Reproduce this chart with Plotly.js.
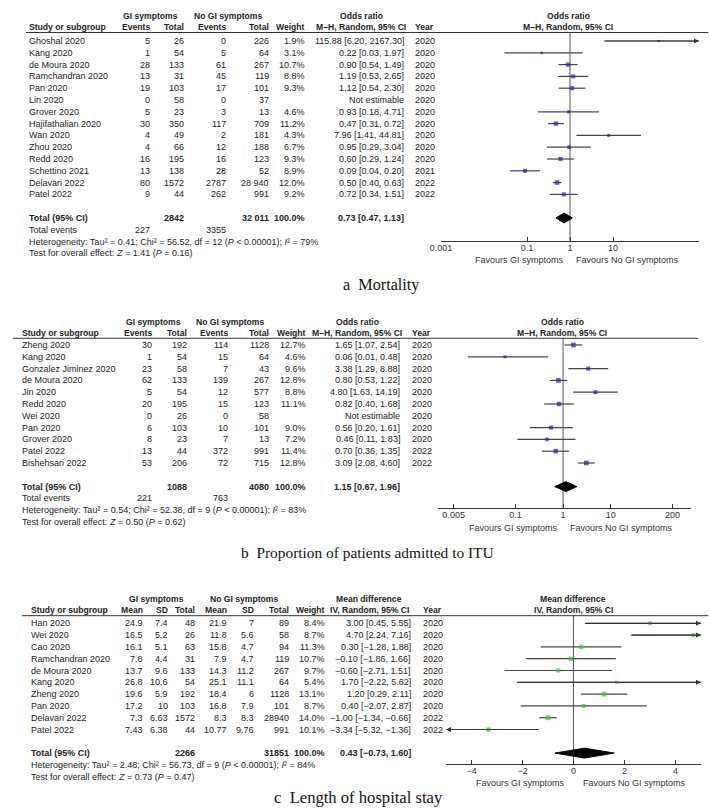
<!DOCTYPE html>
<html><head><meta charset="utf-8">
<script src="https://cdn.plot.ly/plotly-3.0.1.min.js"></script>
<style>html,body{margin:0;padding:0;background:#fff}</style>
</head><body><div id="chart" style="width:709px;height:811px"></div>
<script>
// ---------- Panel a: Mortality ----------
const aStudy = ['Ghoshal 2020','Kang 2020','de Moura 2020','Ramchandran 2020','Pan 2020','Lin 2020','Grover 2020','Hajifathalian 2020','Wan 2020','Zhou 2020','Redd 2020','Schettino 2021','Delavari 2022','Patel 2022'];
const aGiEvents = [5,1,28,13,19,0,5,30,4,4,16,13,80,9];
const aGiTotal = [26,54,133,31,103,58,23,350,49,66,195,138,1572,44];
const aNoEvents = [0,5,61,45,17,0,3,117,2,12,16,28,2787,262];
const aNoTotal = [226,64,267,119,101,37,13,709,181,188,123,52,28940,991];
const aWeight = [1.9,3.1,10.7,8.8,9.3,null,4.6,11.2,4.3,6.7,9.3,8.9,12.0,9.2];
const aOR = [115.88,0.22,0.90,1.19,1.12,null,0.93,0.47,7.96,0.95,0.60,0.09,0.50,0.72];
const aLo = [6.20,0.03,0.54,0.53,0.54,null,0.18,0.31,1.41,0.29,0.29,0.04,0.40,0.34];
const aHi = [2167.30,1.97,1.49,2.65,2.30,null,4.71,0.72,44.81,3.04,1.24,0.20,0.63,1.51];
const aYear = [2020,2020,2020,2020,2020,2020,2020,2020,2020,2020,2020,2021,2022,2022];
const aTotalN = [2842, 32011];
const aTotalEvents = [227, 3355];
const aPooled = [0.73, 0.47, 1.13];
const aHet = [0.41, 56.52, 12, 79];
const aTest = [1.41, 0.16];
const aTickVals = [0.001, 0.1, 1, 10, 1000];
const aTickText = ['0.001','0.1','1','10','1000'];

// ---------- Panel b: Proportion admitted to ITU ----------
const bStudy = ['Zheng 2020','Kang 2020','Gonzalez Jiminez 2020','de Moura 2020','Jin 2020','Redd 2020','Wei 2020','Pan 2020','Grover 2020','Patel 2022','Bishehsari 2022'];
const bGiEvents = [30,1,23,62,5,20,0,6,8,13,53];
const bGiTotal = [192,54,58,133,54,195,26,103,23,44,206];
const bNoEvents = [114,15,7,139,12,15,0,10,7,372,72];
const bNoTotal = [1128,64,43,267,577,123,58,101,13,991,715];
const bWeight = [12.7,4.6,9.6,12.8,8.8,11.1,null,9.0,7.2,11.4,12.8];
const bOR = [1.65,0.06,3.38,0.80,4.80,0.82,null,0.56,0.46,0.70,3.09];
const bLo = [1.07,0.01,1.29,0.53,1.63,0.40,null,0.20,0.11,0.36,2.08];
const bHi = [2.54,0.48,8.88,1.22,14.19,1.68,null,1.61,1.83,1.35,4.60];
const bYear = [2020,2020,2020,2020,2020,2020,2020,2020,2020,2022,2022];
const bTotalN = [1088, 4080];
const bTotalEvents = [221, 763];
const bPooled = [1.15, 0.67, 1.96];
const bHet = [0.54, 52.38, 9, 83];
const bTest = [0.50, 0.62];
const bTickVals = [0.005, 0.1, 1, 10, 200];
const bTickText = ['0.005','0.1','1','10','200'];

// ---------- Panel c: Length of hospital stay ----------
const cStudy = ['Han 2020','Wei 2020','Cao 2020','Ramchandran 2020','de Moura 2020','Kang 2020','Zheng 2020','Pan 2020','Delavari 2022','Patel 2022'];
const cGiMean = [24.9,16.5,16.1,7.8,13.7,26.8,19.6,17.2,7.3,7.43];
const cGiSD = [7.4,5.2,5.1,4.4,9.6,10.6,5.9,10,6.63,6.38];
const cGiTotal = [48,26,63,31,133,54,192,103,1572,44];
const cNoMean = [21.9,11.8,15.8,7.9,14.3,25.1,18.4,16.8,8.3,10.77];
const cNoSD = [7,5.6,4.7,4.7,11.2,11.1,6,7.9,8.3,9.76];
const cNoTotal = [89,58,94,119,267,64,1128,101,28940,991];
const cWeight = [8.4,8.7,11.3,10.7,9.7,5.4,13.1,8.7,14.0,10.1];
const cMD = [3.00,4.70,0.30,-0.10,-0.60,1.70,1.20,0.40,-1.00,-3.34];
const cLo = [0.45,2.24,-1.28,-1.86,-2.71,-2.22,0.29,-2.07,-1.34,-5.32];
const cHi = [5.55,7.16,1.88,1.66,1.51,5.62,2.11,2.87,-0.66,-1.36];
const cYear = [2020,2020,2020,2020,2020,2020,2020,2020,2022,2022];
const cTotalN = [2266, 31851];
const cPooled = [0.43, -0.73, 1.60];
const cHet = [2.48, 56.73, 9, 84];
const cTest = [0.73, 0.47];
const cTickVals = [-4, -2, 0, 2, 4];
const cTickText = ['\u22124','\u22122','0','2','4'];

// ---------- helpers ----------
const W = 709, H = 811;
const FONT = 'Liberation Sans, Arial, Helvetica, sans-serif';
const SERIF = 'Liberation Serif, Times New Roman, serif';
const f2 = v => (v < 0 ? '\u2212' : '') + Math.abs(v).toFixed(2);
const pct = v => v == null ? '' : v.toFixed(1) + '%';
const intS = (v, spaced) => { const s = String(v); return (spaced && v >= 10000) ? s.slice(0, -3) + ' ' + s.slice(-3) : s; };
const effStr = (e, l, h) => e == null ? 'Not estimable' : f2(e) + ' [' + f2(l) + ', ' + f2(h) + ']';

const layout = {
  width: W, height: H, margin: {l: 0, r: 0, t: 0, b: 0}, showlegend: false,
  paper_bgcolor: '#ffffff', plot_bgcolor: 'rgba(0,0,0,0)',
  annotations: [], shapes: []
};
const traces = [];

function addPanel(k, g, d) {
  const xa = 'x' + k, ya = 'y' + k;
  const rowOf = p => (p - g.R0) / g.S;
  const isLog = g.type === 'log';
  const toAx = v => isLog ? Math.log10(v) : v;
  const dMin = isLog ? Math.pow(10, g.range[0]) : g.range[0];
  const dMax = isLog ? Math.pow(10, g.range[1]) : g.range[1];
  const A = layout.annotations;
  const T = (text, x, row, anchor, size, color) => A.push({
    xref: 'paper', yref: ya, x: x / W, y: row, text: text, xanchor: anchor, yanchor: 'middle',
    showarrow: false, font: {family: FONT, size: size || g.fs, color: color || '#222'}
  });
  const n = d.study.length;
  const hs = g.hfs;

  // headers
  const h1 = rowOf(g.hdr1), h2 = rowOf(g.hdr2);
  T('<b>GI symptoms</b>', g.grpC[0], h1, 'center', hs);
  T('<b>No GI symptoms</b>', g.grpC[1], h1, 'center', hs);
  T('<b>' + d.effName + '</b>', g.effC, h1, 'center', hs);
  T('<b>' + d.effName + '</b>', g.forestC, h1, 'center', hs);
  T('<b>Study or subgroup</b>', g.nameX, h2, 'left', hs);
  d.colHeads.forEach((h, j) => T('<b>' + h + '</b>', g.colX[j], h2, 'right', hs));
  T('<b>' + d.method + '</b>', g.effC, h2, 'center', hs);
  T('<b>Year</b>', g.yearX, h2, 'left', hs);
  T('<b>' + d.method + '</b>', g.forestC, h2, 'center', hs);
  layout.shapes.push({type: 'line', xref: 'paper', yref: ya, x0: g.lineX[0] / W, x1: g.lineX[1] / W,
    y0: rowOf(g.line), y1: rowOf(g.line), line: {color: '#333', width: 1}});

  // study rows
  for (let i = 0; i < n; i++) {
    T(d.study[i], g.nameX, i, 'left');
    d.cols.forEach((c, j) => T(c[i], g.colX[j], i, 'right'));
    T(effStr(d.est[i], d.lo[i], d.hi[i]), g.effX, i, 'right');
    T(String(d.year[i]), g.yearX, i, 'left');
  }
  // total row
  let r = n + 1;
  T('<b>Total (95% CI)</b>', g.nameX, r, 'left');
  T('<b>' + intS(d.totalN[0], d.spaced) + '</b>', g.colX[d.totIdx[0]], r, 'right');
  T('<b>' + intS(d.totalN[1], d.spaced) + '</b>', g.colX[d.totIdx[1]], r, 'right');
  T('<b>100.0%</b>', g.colX[g.colX.length - 1], r, 'right');
  T('<b>' + effStr(d.pooled[0], d.pooled[1], d.pooled[2]) + '</b>', g.effX, r, 'right');
  const totRow = r;
  if (d.totalEvents) {
    r++;
    T('Total events', g.nameX, r, 'left');
    T(String(d.totalEvents[0]), g.colX[0], r, 'right');
    T(String(d.totalEvents[1]), g.colX[2], r, 'right');
  }
  r++;
  T('Heterogeneity: Tau\u00b2 = ' + d.het[0].toFixed(2) + '; Chi\u00b2 = ' + d.het[1].toFixed(2) +
    ', df = ' + d.het[2] + ' (<i>P</i> &lt; 0.00001); <i>I</i>\u00b2 = ' + d.het[3] + '%', g.nameX, r, 'left');
  r++;
  T('Test for overall effect: <i>Z</i> = ' + d.test[0].toFixed(2) + ' (<i>P</i> = ' + d.test[1].toFixed(2) + ')', g.nameX, r, 'left');

  // favours labels
  T('Favours GI symptoms', g.favL, rowOf(g.fav), 'right', g.fs, '#333');
  T('Favours No GI symptoms', g.favR, rowOf(g.fav), 'left', g.fs, '#333');

  // caption
  A.push({xref: 'paper', yref: 'paper', x: g.cap[0] / W, y: 1 - g.cap[1] / H, text: d.caption,
    xanchor: 'left', yanchor: 'middle', showarrow: false, font: {family: SERIF, size: g.capFs, color: '#111'}});

  // axes
  layout['xaxis' + k] = {
    domain: [g.fx[0] / W, g.fx[1] / W], anchor: 'free', position: 1 - g.axis / H,
    type: g.type, range: g.range, tickmode: 'array', tickvals: d.tickVals, ticktext: d.tickText,
    ticks: 'inside', ticklen: 4, tickcolor: '#333', showline: true, linecolor: '#333', linewidth: 1,
    showgrid: false, zeroline: false, fixedrange: true, ticklabelstandoff: -2,
    tickfont: {family: FONT, size: g.fs, color: '#333'}
  };
  layout['yaxis' + k] = {
    domain: [1 - g.bottom / H, 1 - g.top / H], range: [rowOf(g.bottom), rowOf(g.top)],
    visible: false, showgrid: false, zeroline: false, fixedrange: true
  };

  // null line
  const nullV = isLog ? 1 : 0;
  traces.push({type: 'scatter', mode: 'lines', xaxis: xa, yaxis: ya, hoverinfo: 'skip',
    x: [nullV, nullV], y: [rowOf(g.line), rowOf(g.axis)], line: {color: '#555', width: 1}});

  // CI lines, arrows, boxes
  const lx = [], ly = [], mx = [], my = [], ms = [];
  for (let i = 0; i < n; i++) {
    if (d.est[i] == null) continue;
    lx.push(d.lo[i], d.hi[i], null); ly.push(i, i, null);
    mx.push(d.est[i]); my.push(i); ms.push(1.15 * Math.sqrt(d.weight[i]) + 0.6);
    if (d.hi[i] > dMax) {
      A.push({xref: xa, yref: ya, axref: xa, ayref: ya, x: g.range[1], y: i,
        ax: toAx(Math.max(d.lo[i], dMin)), ay: i, text: '', showarrow: true, arrowhead: 2,
        arrowsize: 1, arrowwidth: 1, arrowcolor: '#333', standoff: 0});
    }
    if (d.lo[i] < dMin) {
      A.push({xref: xa, yref: ya, axref: xa, ayref: ya, x: g.range[0], y: i,
        ax: toAx(Math.min(d.hi[i], dMax)), ay: i, text: '', showarrow: true, arrowhead: 2,
        arrowsize: 1, arrowwidth: 1, arrowcolor: '#333', standoff: 0});
    }
  }
  traces.push({type: 'scatter', mode: 'lines', xaxis: xa, yaxis: ya, hoverinfo: 'skip',
    x: lx, y: ly, line: {color: '#444', width: 1.2}});
  traces.push({type: 'scatter', mode: 'markers', xaxis: xa, yaxis: ya,
    x: mx, y: my, marker: {symbol: 'square', size: ms, color: d.color, line: {width: 0}}});
  // pooled diamond
  const p = d.pooled;
  traces.push({type: 'scatter', mode: 'lines', xaxis: xa, yaxis: ya, fill: 'toself', hoverinfo: 'skip',
    x: [p[1], p[0], p[2], p[0], p[1]], y: [totRow, totRow - g.dh, totRow, totRow + g.dh, totRow],
    fillcolor: '#000', line: {color: '#000', width: 1}});
}

const fmtCols = (arrs, spacedIdx) => arrs.map((a, j) => a.map(v => intS(v, j === spacedIdx)));

addPanel('', {
  R0: 41, S: 11.8, top: 0, bottom: 272, hdr1: 15.7, hdr2: 27.3, line: 32.5, lineX: [26, 708],
  axis: 241, fav: 259.5, fx: [441, 699], type: 'log', range: [-3, 3], fs: 9, hfs: 8.6,
  nameX: 27, colX: [152, 186, 228, 271, 307], effX: 406, effC: 361, yearX: 413,
  grpC: [150, 228], forestC: 568, favL: 566, favR: 574, cap: [341, 285], capFs: 16.2, dh: 0.42
}, {
  study: aStudy, cols: fmtCols([aGiEvents, aGiTotal, aNoEvents, aNoTotal], 3).concat([aWeight.map(pct)]),
  colHeads: ['Events', 'Total', 'Events', 'Total', 'Weight'], est: aOR, lo: aLo, hi: aHi, weight: aWeight,
  year: aYear, totalN: aTotalN, totIdx: [1, 3], spaced: true, totalEvents: aTotalEvents, pooled: aPooled,
  het: aHet, test: aTest, effName: 'Odds ratio', method: 'M\u2013H, Random, 95% CI',
  tickVals: aTickVals, tickText: aTickText, color: '#1c1cd6', caption: 'a\u00a0\u00a0Mortality'
});

addPanel('2', {
  R0: 345, S: 11.8, top: 300, bottom: 540, hdr1: 321.7, hdr2: 332.7, line: 338.3, lineX: [13, 698],
  axis: 508, fav: 527.5, fx: [438, 691], type: 'log', range: [-2.63, 2.69], fs: 9, hfs: 8.6,
  nameX: 20, colX: [154, 189, 230, 271, 308], effX: 402, effC: 357, yearX: 410,
  grpC: [153, 230], forestC: 562, favL: 560, favR: 568, cap: [239, 552], capFs: 15.4, dh: 0.42
}, {
  study: bStudy, cols: fmtCols([bGiEvents, bGiTotal, bNoEvents, bNoTotal], -1).concat([bWeight.map(pct)]),
  colHeads: ['Events', 'Total', 'Events', 'Total', 'Weight'], est: bOR, lo: bLo, hi: bHi, weight: bWeight,
  year: bYear, totalN: bTotalN, totIdx: [1, 3], spaced: false, totalEvents: bTotalEvents, pooled: bPooled,
  het: bHet, test: bTest, effName: 'Odds ratio', method: 'M\u2013H, Random, 95% CI',
  tickVals: bTickVals, tickText: bTickText, color: '#1c1cd6',
  caption: 'b\u00a0\u00a0Proportion of patients admitted to ITU'
});

addPanel('3', {
  R0: 623.3, S: 11.8, top: 585, bottom: 790, hdr1: 598.7, hdr2: 610, line: 615.7, lineX: [22, 708],
  axis: 764, fav: 783, fx: [446, 701], type: 'linear', range: [-5, 5], fs: 9, hfs: 8.6,
  nameX: 29, colX: [145, 170, 197, 229, 256, 291, 327], effX: 413, effC: 369, yearX: 421,
  grpC: [156, 244], forestC: 573, favL: 567, favR: 581, cap: [272, 797], capFs: 16.6, dh: 0.42
}, {
  study: cStudy, cols: fmtCols([cGiMean, cGiSD, cGiTotal, cNoMean, cNoSD, cNoTotal], -1).concat([cWeight.map(pct)]),
  colHeads: ['Mean', 'SD', 'Total', 'Mean', 'SD', 'Total', 'Weight'], est: cMD, lo: cLo, hi: cHi, weight: cWeight,
  year: cYear, totalN: cTotalN, totIdx: [2, 5], spaced: false, totalEvents: null, pooled: cPooled,
  het: cHet, test: cTest, effName: 'Mean difference', method: 'IV, Random, 95% CI',
  tickVals: cTickVals, tickText: cTickText, color: '#2fcf2f',
  caption: 'c\u00a0\u00a0Length of hospital stay'
});

Plotly.newPlot('chart', traces, layout, {staticPlot: true, displayModeBar: false});
</script>
</body></html>
